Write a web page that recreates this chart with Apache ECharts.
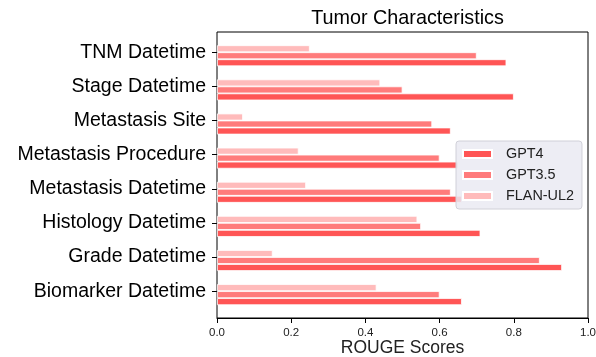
<!DOCTYPE html>
<html>
<head>
<meta charset="utf-8">
<script src="https://cdn.jsdelivr.net/npm/echarts@6/dist/echarts.min.js"></script>
<style>html,body{margin:0;padding:0;background:#fff;}#c{width:596px;height:357px;}</style>
</head>
<body>
<div id="c"></div>
<script>
const categories = ['Biomarker Datetime','Grade Datetime','Histology Datetime','Metastasis Datetime','Metastasis Procedure','Metastasis Site','Stage Datetime','TNM Datetime'];
const gpt4 = [0.66, 0.93, 0.71, 0.66, 0.65, 0.63, 0.80, 0.78];
const gpt35 = [0.60, 0.87, 0.55, 0.63, 0.60, 0.58, 0.50, 0.70];
const flan = [0.43, 0.15, 0.54, 0.24, 0.22, 0.07, 0.44, 0.25];
const xTicks = [0, 0.2, 0.4, 0.6, 0.8, 1.0];

const FONT = '"Liberation Sans", Arial, sans-serif';
const chart = echarts.init(document.getElementById('c'));
const barStyle = (c) => ({color: c, borderColor: '#fff', borderWidth: 0.8});
chart.setOption({
  animation: false,
  title: {text: 'Tumor Characteristics', left: 402.5, top: 4, textAlign: 'center',
    textStyle: {fontFamily: FONT, fontSize: 19.8, fontWeight: 'normal', color: '#000'}},
  legend: {
    data: ['GPT4', 'GPT3.5', 'FLAN-UL2'], orient: 'vertical', left: 456, top: 141,
    itemWidth: 29, itemHeight: 8, itemGap: 5, icon: 'rect',
    padding: [5, 8, 5, 6], backgroundColor: 'rgba(234,234,242,0.85)',
    borderColor: '#d0d0d8', borderWidth: 1, borderRadius: 3,
    textStyle: {fontFamily: FONT, fontSize: 14.4, color: '#222', lineHeight: 16, padding: [0, 0, 0, 9]}
  },
  grid: [
    {left: 217, width: 371, top: 35.2, height: 273, containLabel: false, outerBoundsMode: 'none'},
    {left: 217, width: 371, top: 32, height: 286, containLabel: false, outerBoundsMode: 'none',
      show: true, borderColor: '#000', borderWidth: 1, backgroundColor: 'transparent'}
  ],
  xAxis: [
    {gridIndex: 0, type: 'value', min: 0, max: 1, show: false},
    {gridIndex: 1, type: 'value', min: 0, max: 1, interval: 0.2,
      axisLine: {show: true, lineStyle: {color: '#000'}},
      axisTick: {show: true, length: 5, lineStyle: {color: '#000'}},
      splitLine: {show: false},
      axisLabel: {fontFamily: FONT, fontSize: 11.5, color: '#222', margin: 9,
        formatter: (v) => v.toFixed(1)},
      name: 'ROUGE Scores', nameLocation: 'middle', nameGap: 21, nameMoveOverlap: false,
      nameTextStyle: {fontFamily: FONT, fontSize: 17.5, color: '#222'}}
  ],
  yAxis: [
    {gridIndex: 0, type: 'category', data: categories,
      axisLine: {show: false}, axisTick: {show: true, length: 5, alignWithLabel: true, lineStyle: {color: '#000'}},
      axisLabel: {fontFamily: FONT, fontSize: 19.5, color: '#000', margin: 11}},
    {gridIndex: 1, type: 'value', show: false, min: 0, max: 1}
  ],
  series: [
    {name: 'pad', type: 'bar', data: categories.map(() => 0), barWidth: 7, barGap: '0%', itemStyle: {color: 'transparent'}},
    {name: 'FLAN-UL2', type: 'bar', data: flan, barWidth: 7, barGap: '0%', itemStyle: barStyle('#FFBBBB')},
    {name: 'GPT3.5', type: 'bar', data: gpt35, barWidth: 7, barGap: '0%', itemStyle: barStyle('#FF7B7B')},
    {name: 'GPT4', type: 'bar', data: gpt4, barWidth: 7, barGap: '0%', itemStyle: barStyle('#FF5555')}
  ]
});
</script>
</body>
</html>
